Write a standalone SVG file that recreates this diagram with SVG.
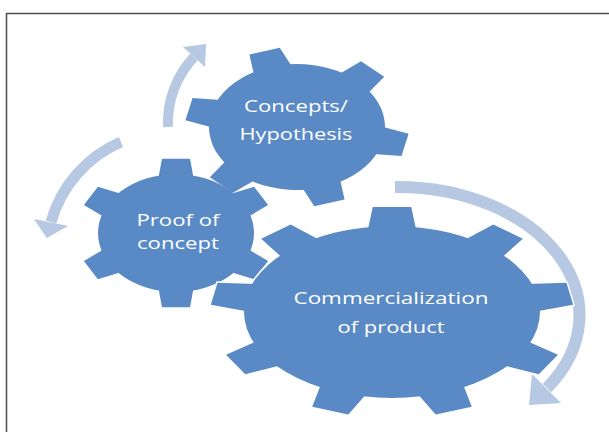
<svg xmlns="http://www.w3.org/2000/svg" xmlns:xlink="http://www.w3.org/1999/xlink" width="609" height="432" viewBox="0 0 609 432">
  <style>
    .gp { vector-effect: non-scaling-stroke; }
    .gear { fill: #5a8ac6; }
    .halo { fill: #ffffff; stroke: #ffffff; stroke-width: 3; }
    .band { fill: none; stroke: #b6c8e2; stroke-linecap: butt; }
    .head { fill: #b6c8e2; }
    .lbl { fill: #ffffff; font-family: "Open Sans", "Liberation Sans", sans-serif; font-size: 17px; text-anchor: middle; }
    .frame { stroke: #4d4d4d; stroke-width: 1.5; fill: none; }
  </style>
  <defs>
    <polygon id="tA" class="gp" points="-0.23,-0.9 -0.18,-1.26 0.18,-1.26 0.23,-0.9"/>
    <polygon id="tB" class="gp" points="-0.17,-0.9 -0.13,-1.22 0.13,-1.22 0.17,-0.9"/>
    <g id="g6">
      <circle class="gp" r="1"/>
      <use xlink:href="#tA"/>
      <use xlink:href="#tA" transform="rotate(60)"/>
      <use xlink:href="#tA" transform="rotate(120)"/>
      <use xlink:href="#tA" transform="rotate(180)"/>
      <use xlink:href="#tA" transform="rotate(240)"/>
      <use xlink:href="#tA" transform="rotate(300)"/>
    </g>
    <g id="g9">
      <circle class="gp" r="1"/>
      <use xlink:href="#tB"/>
      <use xlink:href="#tB" transform="rotate(40)"/>
      <use xlink:href="#tB" transform="rotate(80)"/>
      <use xlink:href="#tB" transform="rotate(120)"/>
      <use xlink:href="#tB" transform="rotate(160)"/>
      <use xlink:href="#tB" transform="rotate(200)"/>
      <use xlink:href="#tB" transform="rotate(240)"/>
      <use xlink:href="#tB" transform="rotate(280)"/>
      <use xlink:href="#tB" transform="rotate(320)"/>
    </g>
  </defs>

  <path class="frame" d="M609 13.5 H6.5 V432"/>

  <g id="connectors">
    <path class="band" stroke-width="10" d="M168 127 A96 96 0 0 1 194 57"/>
    <polygon class="head" points="183,47 205,67 206,44"/>
    <path class="band" stroke-width="11" d="M121 142 A123 123 0 0 0 51 222"/>
    <polygon class="head" points="34,219 68,226 46.7,238"/>
    <path class="band" stroke-width="12" d="M395 187 A182 128 0 0 1 547 388"/>
    <polygon class="head" points="532,374 561,403 529,405"/>
  </g>

  <g id="concepts">
    <use xlink:href="#g6" class="gear" transform="translate(297,127) scale(88,63) rotate(-17)"/>
    <text class="lbl" x="296" y="112" textLength="104" lengthAdjust="spacingAndGlyphs">Concepts/</text>
    <text class="lbl" x="296" y="140" textLength="113" lengthAdjust="spacingAndGlyphs">Hypothesis</text>
  </g>

  <g id="proof">
    <use xlink:href="#g6" class="gear" transform="translate(176,233) scale(78,59)"/>
    <text class="lbl" x="178" y="226" font-size="16.5" textLength="83" lengthAdjust="spacingAndGlyphs">Proof of</text>
    <text class="lbl" x="178" y="249" font-size="16.5" textLength="82" lengthAdjust="spacingAndGlyphs">concept</text>
  </g>

  <g id="commercialization">
    <use xlink:href="#g9" class="halo" transform="translate(392,312) scale(148,86)"/>
    <use xlink:href="#g9" class="gear" transform="translate(392,312) scale(148,86)"/>
    <text class="lbl" x="391" y="304" textLength="195" lengthAdjust="spacingAndGlyphs">Commercialization</text>
    <text class="lbl" x="391" y="333" textLength="107" lengthAdjust="spacingAndGlyphs">of product</text>
  </g>
</svg>
